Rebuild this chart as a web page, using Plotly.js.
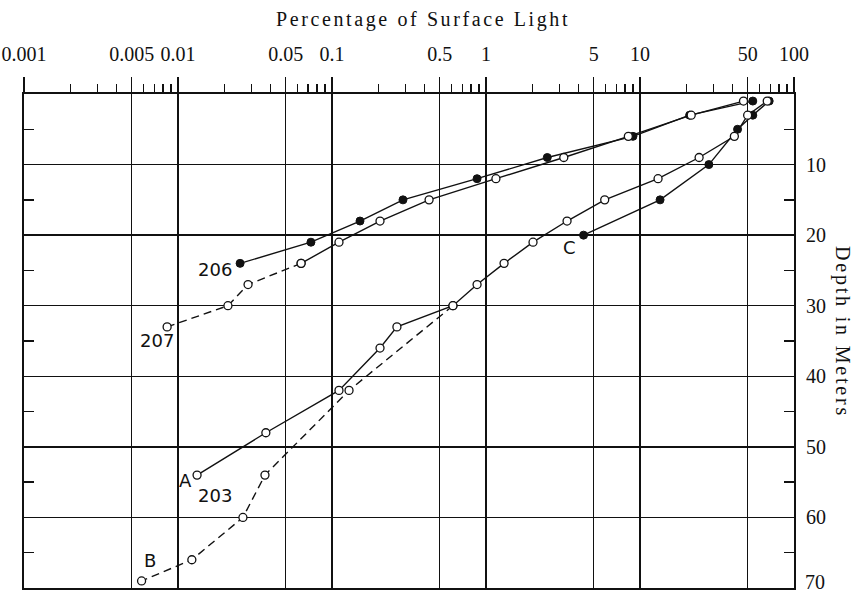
<!DOCTYPE html>
<html>
<head>
<meta charset="utf-8">
<script src="https://cdn.plot.ly/plotly-3.0.1.min.js"></script>
<style>
  html, body { margin: 0; padding: 0; background: #fff; }
  #chart { width: 860px; height: 594px; }
  .gtitle { letter-spacing: 2.6px; }
  .annotation[data-index="0"] text { letter-spacing: 2.8px; }
</style>
</head>
<body>
<div id="chart"></div>
<script>
// ---- Data (percentage of surface light vs depth in meters) ----
const depthA = [1, 3, 6, 9, 12, 15, 18, 21, 24, 27, 30, 33, 36, 42, 48, 54];
const lightA = [67, 50, 41, 24.2, 13.1, 5.9, 3.36, 2.02, 1.31, 0.875, 0.61, 0.264, 0.205, 0.111, 0.0372, 0.0133];

const depthB = [30, 42, 54, 60, 66, 69];
const lightB = [0.61, 0.129, 0.0367, 0.0264, 0.0123, 0.0058];

const depthC = [1, 3, 5, 10, 15, 20];
const lightC = [69, 54, 43, 28, 13.5, 4.3];

const depth206 = [1, 3, 6, 9, 12, 15, 18, 21, 24];
const light206 = [54, 21, 9.0, 2.5, 0.875, 0.289, 0.152, 0.073, 0.0253];

const depth207 = [1, 3, 6, 9, 12, 15, 18, 21, 24, 27, 30, 33];
const light207 = [47, 21.5, 8.4, 3.2, 1.16, 0.427, 0.205, 0.111, 0.063, 0.0285, 0.0211, 0.0085];
const solidEnd207 = 9; // solid through depth 24, dashed below

// ---- Axis tick labels ----
const xTickVals = [0.001, 0.005, 0.01, 0.05, 0.1, 0.5, 1, 5, 10, 50, 100];
const xTickText = ['0.001', '0.005', '0.01', '0.05', '0.1', '0.5', '1', '5', '10', '50', '100'];
const xMinorVals = [0.002, 0.003, 0.004, 0.006, 0.007, 0.008, 0.009,
                    0.02, 0.03, 0.04, 0.06, 0.07, 0.08, 0.09,
                    0.2, 0.3, 0.4, 0.6, 0.7, 0.8, 0.9,
                    2, 3, 4, 6, 7, 8, 9,
                    20, 30, 40, 60, 70, 80, 90];
const yTickVals = [10, 20, 30, 40, 50, 60, 70];
const yTickText = ['10', '20', '30', '40', '50', '60', ''];
const yBottomLabel = '70';
const yMinorVals = [5, 15, 25, 35, 45, 55, 65];

const ink = '#111';
const openMarker = {symbol: 'circle', size: 8, color: '#fff', line: {color: ink, width: 1.3}};
const filledMarker = {symbol: 'circle', size: 8, color: ink, line: {color: ink, width: 1}};
const solidLine = {color: ink, width: 1.4};
const dashLine = {color: ink, width: 1.4, dash: '8px,5px'};

const traces = [
  {x: light206, y: depth206, mode: 'lines+markers', line: solidLine, marker: filledMarker},
  {x: light207.slice(0, solidEnd207), y: depth207.slice(0, solidEnd207), mode: 'lines+markers', line: solidLine, marker: openMarker},
  {x: light207.slice(solidEnd207 - 1), y: depth207.slice(solidEnd207 - 1), mode: 'lines+markers', line: dashLine, marker: openMarker},
  {x: lightB, y: depthB, mode: 'lines+markers', line: dashLine, marker: openMarker},
  {x: lightC, y: depthC, mode: 'lines+markers', line: solidLine, marker: filledMarker},
  {x: lightA, y: depthA, mode: 'lines+markers', line: solidLine, marker: openMarker}
];

const serif = 'Liberation Serif';
const sans = 'DejaVu Sans';
const labFont = {family: sans, size: 18, color: ink};
const lg = v => Math.log10(v);
const last = a => a[a.length - 1];

const layout = {
  width: 860, height: 594,
  margin: {l: 24, r: 66, t: 94, b: 6},
  paper_bgcolor: '#fff', plot_bgcolor: '#fff',
  showlegend: false,
  title: {
    text: 'Percentage of Surface Light',
    font: {family: serif, size: 20, color: ink},
    x: 0.492, xref: 'container', xanchor: 'center',
    y: 1 - 19 / 594, yref: 'container', yanchor: 'middle'
  },
  xaxis: {
    type: 'log', range: [-3, 2], side: 'top',
    showline: true, mirror: true, linecolor: ink, linewidth: 2,
    tickmode: 'array', tickvals: xTickVals, ticktext: xTickText,
    ticks: 'outside', ticklen: 15, tickwidth: 1.5, tickcolor: ink,
    ticklabelstandoff: 8,
    tickfont: {family: serif, size: 20, color: ink},
    showgrid: true, gridcolor: ink, gridwidth: 1.3,
    zeroline: false,
    minor: {tickmode: 'array', tickvals: xMinorVals, ticks: 'outside', ticklen: 8, tickwidth: 1.3, tickcolor: ink, showgrid: false}
  },
  yaxis: {
    range: [70, 0], side: 'right',
    showline: true, mirror: 'ticks', linecolor: ink, linewidth: 2,
    tickmode: 'array', tickvals: yTickVals, ticktext: yTickText,
    ticks: 'inside', ticklen: 10, tickwidth: 1.5, tickcolor: ink,
    ticklabelstandoff: 6,
    tickfont: {family: serif, size: 20, color: ink},
    showgrid: true, gridcolor: ink, gridwidth: 1.3,
    zeroline: false,
    minor: {tickmode: 'array', tickvals: yMinorVals, ticks: 'inside', ticklen: 10, tickwidth: 1.5, tickcolor: ink, showgrid: false}
  },
  annotations: [
    {text: 'Depth in Meters', textangle: 90, xref: 'paper', yref: 'paper',
     x: (843 - 24) / 770, y: 1 - (332 - 94) / 494, xanchor: 'center', yanchor: 'middle',
     showarrow: false, font: {family: serif, size: 20, color: ink}},
    {text: '206', x: lg(last(light206)), y: last(depth206), xanchor: 'right', yanchor: 'middle',
     xshift: -6, yshift: -6, showarrow: false, font: labFont},
    {text: '207', x: lg(last(light207)), y: last(depth207), xanchor: 'right', yanchor: 'middle',
     xshift: 9, yshift: -14, showarrow: false, font: labFont},
    {text: 'A', x: lg(last(lightA)), y: last(depthA), xanchor: 'right', yanchor: 'middle',
     xshift: -3, yshift: -5, showarrow: false, font: labFont},
    {text: '203', x: lg(last(lightA)), y: last(depthA), xanchor: 'left', yanchor: 'middle',
     xshift: -1, yshift: -20, showarrow: false, font: labFont},
    {text: 'B', x: lg(last(lightB)), y: last(depthB), xanchor: 'left', yanchor: 'middle',
     xshift: 0, yshift: 20, showarrow: false, font: labFont},
    {text: 'C', x: lg(last(lightC)), y: last(depthC), xanchor: 'right', yanchor: 'middle',
     xshift: -6, yshift: -12, showarrow: false, font: labFont},
    {text: yBottomLabel, xref: 'paper', yref: 'y', x: 1, y: 70,
     xanchor: 'left', yanchor: 'bottom', xshift: 9, yshift: -7,
     showarrow: false, font: {family: serif, size: 20, color: ink}}
  ]
};

Plotly.newPlot('chart', traces, layout, {displayModeBar: false, staticPlot: true});
</script>
</body>
</html>
